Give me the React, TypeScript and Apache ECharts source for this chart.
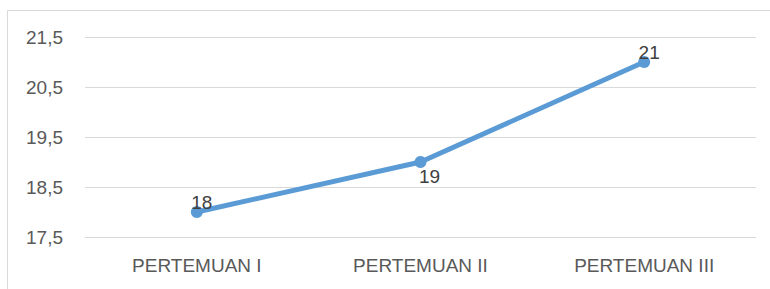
import React, { useEffect, useRef } from "react";
import * as echarts from "echarts";

const categories = ["PERTEMUAN I", "PERTEMUAN II", "PERTEMUAN III"];
const values = [18, 19, 21];
const labelPlacement = ["top", "bottom", "top"];

export default function App() {
  const ref = useRef<HTMLDivElement>(null);
  useEffect(() => {
    document.body.style.margin = "0";
    const chart = echarts.init(ref.current!, null, { renderer: "svg" });
    const offsets: Record<string, number[]> = { top: [5, 10.5], bottom: [9, -6.5] };
    const font = "Liberation Sans";
    chart.setOption({
      animation: false,
      backgroundColor: "#ffffff",
      graphic: [
        {
          type: "rect",
          shape: { x: 7.5, y: 10.5, width: 800, height: 400 },
          style: { fill: "none", stroke: "#d9d9d9", lineWidth: 1 },
          silent: true,
        },
      ],
      grid: { left: 85, right: 14, top: 37, bottom: 52 },
      xAxis: {
        type: "category",
        data: categories,
        boundaryGap: true,
        axisLine: { lineStyle: { color: "#d9d9d9", width: 1 } },
        axisTick: { show: false },
        axisLabel: { color: "#595959", fontSize: 19, fontFamily: font, margin: 19 },
      },
      yAxis: {
        type: "value",
        min: 17.5,
        max: 21.5,
        interval: 1,
        axisLine: { show: false },
        axisTick: { show: false },
        splitLine: { lineStyle: { color: "#d9d9d9", width: 1 } },
        axisLabel: {
          color: "#595959",
          fontSize: 19,
          fontFamily: font,
          margin: 22,
          formatter: (v: number) => String(v).replace(".", ","),
        },
      },
      series: [
        {
          type: "line",
          data: values.map((v, i) => ({
            value: v,
            label: {
              position: labelPlacement[i],
              offset: offsets[labelPlacement[i]],
            },
          })),
          symbol: "circle",
          symbolSize: 12,
          lineStyle: { color: "#5b9bd5", width: 5 },
          itemStyle: { color: "#5b9bd5" },
          label: {
            show: true,
            color: "#404040",
            fontSize: 19,
            fontFamily: font,
          },
        },
      ],
    });
    return () => chart.dispose();
  }, []);
  return <div ref={ref} style={{ width: 770, height: 289 }} />;
}
